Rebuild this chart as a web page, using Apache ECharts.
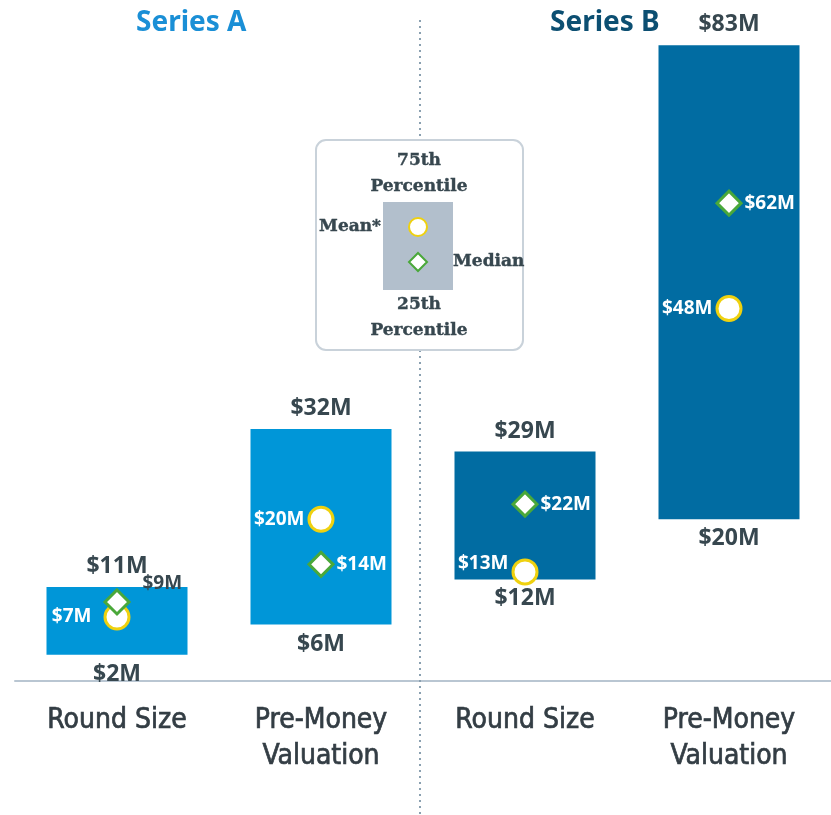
<!DOCTYPE html>
<html lang="en">
<head>
  <meta charset="UTF-8">
  <title>Series A / Series B rounds</title>
  <style>
    html, body { margin: 0; padding: 0; background: #fff; }
  </style>
</head>
<body>
<div id="main" style="width:831px; height:815px;"></div>
<script type="text/javascript" src="https://fastly.jsdelivr.net/npm/echarts@6/dist/echarts.min.js"></script>
<script>
  // data, $M
  var categories = ['Round Size', 'Pre-Money\nValuation', 'Round Size', 'Pre-Money\nValuation'];
  var rounds = ['A', 'A', 'B', 'B'];
  var p25 = [2, 6, 12, 20];
  var p75 = [11, 32, 29, 83];
  var means = [7, 20, 13, 48];
  var medians = [9, 14, 22, 62];

  var roundColor = { A: '#0096d8', B: '#016ca2' };
  var dark = '#37474f';
  var yellow = '#efd10f';
  var green = '#4aa83a';
  var numFont = '"Noto Sans", sans-serif';
  var slab = '"DejaVu Serif", serif';

  function money(v) { return '$' + v + 'M'; }

  function legendText(x, y, text, align, vAlign) {
    return {
      type: 'text', z: 12,
      style: {
        x: x, y: y, text: text, align: align, verticalAlign: vAlign,
        fill: dark, font: 'bold 17px "DejaVu Serif", serif', lineHeight: 26,
        stroke: dark, lineWidth: 0.4
      }
    };
  }

  var chartDom = document.getElementById('main');
  var myChart = echarts.init(chartDom);

  var option = {
    animation: false,
    title: [
      {
        text: 'Series A', left: 131, top: 4,
        textStyle: { color: '#1a8fd6', fontSize: 28, fontWeight: 'bold', fontFamily: numFont }
      },
      {
        text: 'Series B', left: 545, top: 4,
        textStyle: { color: '#0c4f72', fontSize: 28, fontWeight: 'bold', fontFamily: numFont }
      }
    ],
    grid: { left: 15, right: 0, top: 0, bottom: 134 },
    xAxis: {
      type: 'category',
      data: categories,
      axisTick: { show: false },
      axisLine: { onZero: false, lineStyle: { color: '#b9c6d2', width: 2 } },
      axisLabel: {
        color: '#333d44',
        fontSize: 28,
        lineHeight: 36,
        margin: 22,
        textBorderColor: '#333d44',
        textBorderWidth: 0.7,
        fontFamily: '"DejaVu Sans Condensed", "Liberation Sans Narrow", sans-serif'
      }
    },
    yAxis: {
      type: 'value',
      min: -1.5,
      max: 89,
      show: false,
      splitLine: { show: false }
    },
    graphic: [
      {
        type: 'line', z: 1, silent: true,
        shape: { x1: 420, y1: 20, x2: 420, y2: 815 },
        style: { stroke: '#8aa0b0', lineWidth: 2, lineDash: [2, 4] }
      },
      {
        type: 'rect', z: 10, silent: true,
        shape: { x: 316, y: 140, width: 207, height: 210, r: 10 },
        style: { fill: '#fff', stroke: '#c9d2da', lineWidth: 2 }
      },
      {
        type: 'rect', z: 11, silent: true,
        shape: { x: 383, y: 202, width: 70, height: 88 },
        style: { fill: '#b2bfcc' }
      },
      {
        type: 'circle', z: 12, silent: true,
        shape: { cx: 418, cy: 227, r: 9 },
        style: { fill: '#fff', stroke: yellow, lineWidth: 2 }
      },
      {
        type: 'polygon', z: 12, silent: true,
        shape: { points: [[418, 253], [427, 262], [418, 271], [409, 262]] },
        style: { fill: '#fff', stroke: green, lineWidth: 2 }
      },
      legendText(419, 148, '75th\nPercentile', 'center', 'top'),
      legendText(419, 292, '25th\nPercentile', 'center', 'top'),
      legendText(381, 227, 'Mean*', 'right', 'middle'),
      legendText(453, 262, 'Median', 'left', 'middle')
    ],
    series: [
      {
        name: 'base',
        type: 'bar',
        stack: 'range',
        barWidth: 141,
        silent: true,
        itemStyle: { color: 'transparent' },
        data: p25
      },
      {
        name: 'range',
        type: 'bar',
        stack: 'range',
        barWidth: 141,
        data: p75.map(function (v, i) {
          return { value: v - p25[i], itemStyle: { color: roundColor[rounds[i]] } };
        }),
        label: {
          show: true,
          position: 'top',
          distance: 9,
          color: dark,
          fontSize: 23,
          fontWeight: 'bold',
          fontFamily: numFont,
          formatter: function (p) { return money(p75[p.dataIndex]); }
        }
      },
      {
        name: '25th',
        type: 'scatter',
        symbolSize: 0,
        silent: true,
        itemStyle: { opacity: 1 },
        data: p25,
        label: {
          show: true,
          position: 'bottom',
          distance: 8,
          color: dark,
          fontSize: 23,
          fontWeight: 'bold',
          fontFamily: numFont,
          formatter: function (p) { return money(p.value); }
        }
      },
      {
        name: 'Mean',
        type: 'scatter',
        z: 5,
        symbol: 'circle',
        symbolSize: 24,
        itemStyle: { color: '#fff', borderColor: yellow, borderWidth: 3, opacity: 1 },
        data: means.map(function (v, i) {
          var item = { value: v };
          if (i === 0) item.label = { distance: 12 };
          if (i === 2) item.label = { offset: [0, -8] };
          return item;
        }),
        label: {
          show: true,
          position: 'left',
          distance: 3,
          color: '#fff',
          fontSize: 19,
          fontWeight: 'bold',
          fontFamily: numFont,
          formatter: function (p) { return money(p.value); }
        }
      },
      {
        name: 'Median',
        type: 'scatter',
        z: 5,
        symbol: 'diamond',
        symbolSize: 24,
        itemStyle: { color: '#fff', borderColor: green, borderWidth: 3, opacity: 1 },
        data: medians.map(function (v, i) {
          var item = { value: v };
          if (i === 0) item.label = { color: dark, offset: [10, -18] };
          return item;
        }),
        label: {
          show: true,
          position: 'right',
          distance: 2,
          color: '#fff',
          fontSize: 19,
          fontWeight: 'bold',
          fontFamily: numFont,
          formatter: function (p) { return money(p.value); }
        }
      }
    ]
  };

  myChart.setOption(option);
</script>
</body>
</html>
